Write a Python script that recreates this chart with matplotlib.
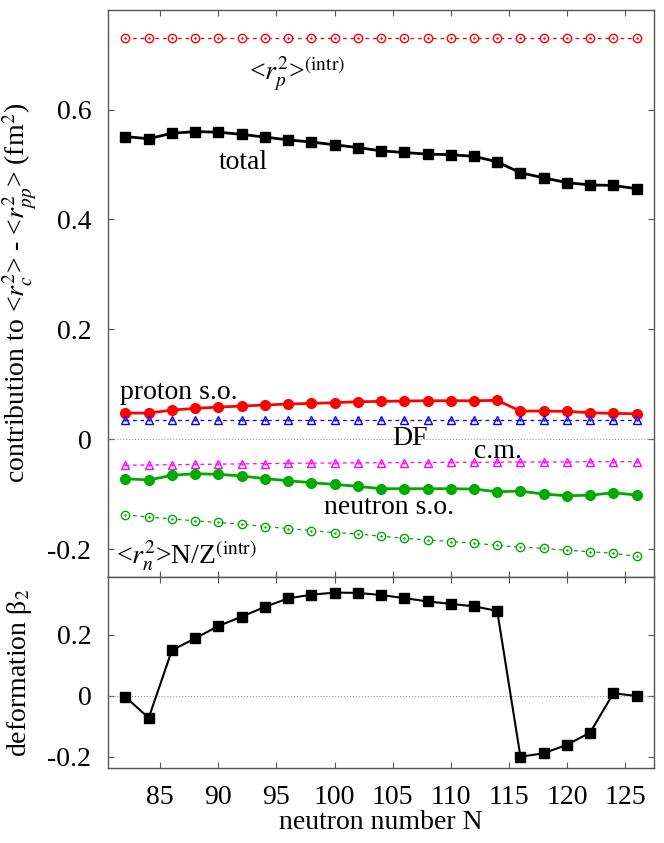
import numpy as np
import matplotlib
matplotlib.use("Agg")
import matplotlib.pyplot as plt

plt.rcParams['font.family'] = ['Liberation Serif', 'DejaVu Serif']
plt.rcParams['mathtext.fontset'] = 'stix'

neutron_n = np.arange(82, 127, 2)

rp_intr = [0.730] * 23
total = [0.551, 0.547, 0.557, 0.560, 0.559, 0.555, 0.550, 0.545, 0.541, 0.536,
         0.531, 0.525, 0.522, 0.519, 0.518, 0.515, 0.505, 0.485, 0.476, 0.467,
         0.463, 0.462, 0.456]
proton_so = [0.0475, 0.0475, 0.053, 0.0561, 0.0585, 0.0603, 0.0622, 0.064, 0.0652, 0.0664,
             0.0682, 0.0688, 0.0695, 0.070, 0.070, 0.070, 0.0707, 0.0512, 0.0512, 0.0506,
             0.0481, 0.047, 0.0463]
dirac_foldy = [0.0347] * 23
center_mass = [-0.0475, -0.047, -0.0465, -0.046, -0.0455, -0.045, -0.0445, -0.044, -0.0435, -0.0435,
               -0.043, -0.043, -0.0425, -0.0425, -0.042, -0.042, -0.042, -0.0415, -0.0415, -0.0415,
               -0.041, -0.041, -0.041]
neutron_so = [-0.0719, -0.0744, -0.0658, -0.0628, -0.064, -0.067, -0.0719, -0.0756, -0.0792, -0.0823,
              -0.0859, -0.0902, -0.0902, -0.0902, -0.0902, -0.0908, -0.0957, -0.0945, -0.100, -0.103,
              -0.102, -0.0975, -0.1018]
rn_nz_intr = [-0.1377, -0.142, -0.145, -0.1487, -0.1517, -0.1548, -0.159, -0.1627, -0.1664, -0.170,
              -0.1725, -0.1767, -0.1804, -0.1834, -0.1865, -0.1895, -0.1932, -0.1968, -0.1987, -0.2023,
              -0.2048, -0.2078, -0.2133]
beta2 = [-0.003, -0.072, 0.150, 0.189, 0.2295, 0.260, 0.292, 0.320, 0.332, 0.339,
         0.338, 0.331, 0.321, 0.310, 0.302, 0.294, 0.279, -0.199, -0.188, -0.160,
         -0.120, 0.009, 0.0]

# curve labels: text, left edge (N), centre (value)
curve_labels = [
    (r'<$r_p^2$>$^{\rm (intr)}$', 92.6, 0.665),
    ('total', 90.0, 0.504),
    ('proton s.o.', 81.5, 0.085),
    ('DF', 105.0, 0.001),
    ('c.m.', 112.0, -0.023),
    ('neutron s.o.', 99.1, -0.125),
    (r'<$r_n^2$>N/Z$^{\rm (intr)}$', 81.2, -0.212),
]

GREEN = '#00aa00'
SPINE = '#555555'
FS = 20

fig = plt.figure(figsize=(6.64, 8.43), dpi=100)
ax1 = fig.add_axes([0.1627, 0.3155, 0.8223, 0.673])
ax2 = fig.add_axes([0.1627, 0.089, 0.8223, 0.2265])


def open_series(ax, y, color, marker):
    ax.plot(neutron_n, y, color=color, lw=0.9, ls=(0, (3, 3)), marker=marker, ms=6,
            mfc='white', mec=color, mew=1.0)
    ax.plot(neutron_n, y, ls='none', marker='.', ms=1.5, color=color)


ax1.axhline(0, color='#999999', lw=0.8, ls=':')
open_series(ax1, rp_intr, 'red', 'o')
ax1.plot(neutron_n, total, color='black', lw=2, marker='s', ms=7)
ax1.plot(neutron_n, proton_so, color='red', lw=2, marker='o', ms=7)
open_series(ax1, dirac_foldy, 'blue', '^')
open_series(ax1, center_mass, 'magenta', '^')
ax1.plot(neutron_n, neutron_so, color=GREEN, lw=2, marker='o', ms=7)
open_series(ax1, rn_nz_intr, GREEN, 'o')

for txt, xv, yv in curve_labels:
    ax1.text(xv, yv, txt, fontsize=FS, ha='left', va='center')

ax1.set_xlim(80.5, 127.5)
ax1.set_ylim(-0.251, 0.782)
ax1.set_yticks([-0.2, 0, 0.2, 0.4, 0.6])
ax1.set_yticklabels(['-0.2', '0', '0.2', '0.4', '0.6'])
ax1.set_xticks(np.arange(85, 126, 5))
ax1.tick_params(labelbottom=False)
ax1.set_ylabel(r'contribution to <$r_c^2$> - <$r_{pp}^2$> (fm$^2$)', fontsize=FS)
ax1.yaxis.set_label_coords(-0.128, 0.5)

ax2.axhline(0, color='#999999', lw=0.8, ls=':')
ax2.plot(neutron_n, beta2, color='black', lw=1.5, marker='s', ms=7)
ax2.set_xlim(80.5, 127.5)
ax2.set_ylim(-0.236, 0.39)
ax2.set_yticks([-0.2, 0, 0.2])
ax2.set_yticklabels(['-0.2', '0', '0.2'])
ax2.set_xticks(np.arange(85, 126, 5))
ax2.set_xlabel('neutron number N', fontsize=FS, labelpad=0)
ax2.set_ylabel('deformation β$_2$', fontsize=FS)
ax2.yaxis.set_label_coords(-0.135, 0.5)

for ax in (ax1, ax2):
    ax.tick_params(direction='in', top=True, right=True, length=4, width=0.8,
                   color=SPINE, labelsize=FS)
    ax.tick_params(axis='y', pad=12)
    ax.tick_params(axis='x', pad=12)
    for sp in ax.spines.values():
        sp.set_color(SPINE)
        sp.set_linewidth(1.0)

fig.savefig('out.png', dpi=100)
